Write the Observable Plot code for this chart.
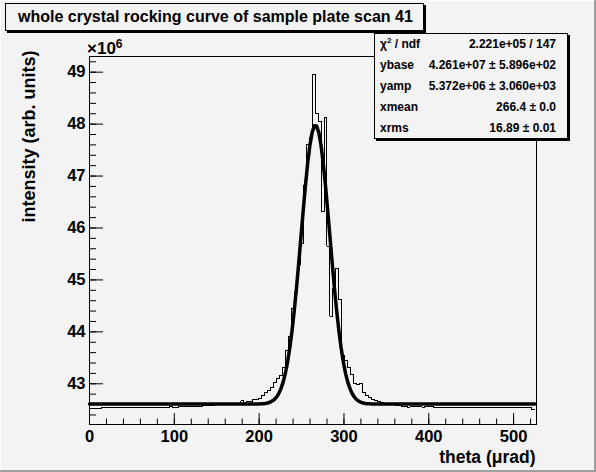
<!DOCTYPE html>
<html>
<head>
<meta charset="utf-8">
<script src="https://cdn.jsdelivr.net/npm/d3@7"></script>
<script src="https://cdn.jsdelivr.net/npm/@observablehq/plot@0.6"></script>
<style>
  body { margin: 0; background: #f3f3f3; }
  #wrap {
    position: relative; width: 596px; height: 472px; background: #f3f3f3; overflow: hidden;
    box-shadow: inset -2px -2px 0 #a0a0a0, inset 1px 1px 0 #ffffff;
    font-family: "Liberation Sans", Arial, Helvetica, sans-serif; color: #000;
  }
  #chart { position: absolute; left: 0; top: 0; }
  .title {
    position: absolute; left: 5px; top: 3px; width: 419px; height: 28px; box-sizing: border-box;
    border: 1px solid #000; box-shadow: 2px 2px 0 #000; background: #f3f3f3;
    font-weight: bold; font-size: 16px; line-height: 26px; padding-left: 12px; white-space: nowrap;
  }
  .stats {
    position: absolute; left: 374px; top: 33px; width: 194px; height: 106px; box-sizing: border-box;
    border: 1px solid #000; box-shadow: 2px 2px 0 #000; background: #f3f3f3;
    font-weight: bold; font-size: 12px;
  }
  .row {
    position: absolute; left: 5px; right: 11px; height: 21px; display: flex;
    justify-content: space-between; align-items: center; white-space: nowrap;
  }
  .row sup { font-size: 8px; vertical-align: 5px; line-height: 0; }
  .exp { position: absolute; left: 87px; top: 40px; font-weight: bold; font-size: 17px; line-height: 17px; white-space: nowrap; }
  .exp sup { font-size: 12px; vertical-align: 6px; line-height: 0; }
</style>
</head>
<body>
<div id="wrap">
  <div id="chart"></div>
  <div class="exp">×10<sup>6</sup></div>
  <div class="title" id="title"></div>
  <div class="stats" id="stats"></div>
</div>
<script>
// ---- data ----
const titleText = "whole crystal rocking curve of sample plate scan 41";
const xLabel = "theta (μrad)";
const yLabel = "intensity (arb. units)";

// histogram: 150 bins of 3.5 µrad starting at 0 ; contents in units of 10^6
const binStart = 0;
const binWidth = 3.5;
const binContents = [
  42.516,42.516,42.516,42.516,42.536,42.536,42.536,42.536,42.536,42.536,
  42.536,42.536,42.536,42.536,42.536,42.536,42.536,42.536,42.536,42.536,
  42.536,42.536,42.536,42.536,42.536,42.536,42.536,42.556,42.536,42.536,
  42.558,42.558,42.558,42.558,42.558,42.558,42.558,42.558,42.585,42.585,
  42.585,42.585,42.595,42.595,42.595,42.595,42.61,42.61,42.61,42.61,
  42.62,42.67,42.645,42.66,42.665,42.69,42.70,42.72,42.77,42.84,
  42.87,42.93,43.03,43.10,43.15,43.31,43.64,43.92,44.45,44.75,
  45.29,45.70,46.82,47.60,47.75,48.95,48.21,48.06,46.31,48.12,
  45.65,44.30,44.84,45.22,44.62,43.55,43.45,43.31,43.18,43.01,
  42.98,43.01,42.84,42.77,42.74,42.70,42.68,42.66,42.645,42.63,
  42.62,42.61,42.60,42.59,42.58,42.56,42.56,42.55,42.56,42.56,
  42.56,42.56,42.55,42.56,42.56,42.56,42.536,42.536,42.536,42.536,
  42.536,42.536,42.536,42.536,42.536,42.536,42.536,42.536,42.536,42.536,
  42.536,42.536,42.536,42.536,42.536,42.536,42.536,42.536,42.536,42.536,
  42.536,42.536,42.536,42.536,42.536,42.536,42.536,42.536,42.536,42.50
];

// fit parameters shown in the stats box (y in units of 10^6)
const fitYbase = 42.61;
const fitYamp = 5.372;
const fitXmean = 266.4;
const fitXrms = 16.89;
const fitRange = [0, 525];

const statsLabels = ["χ<sup>2</sup> / ndf", "ybase", "yamp", "xmean", "xrms"];
const statsValues = ["2.221e+05 / 147", "4.261e+07 ± 5.896e+02", "5.372e+06 ± 3.060e+03", "266.4 ± 0.0", "16.89 ± 0.01"];

const xMajorTicks = [0, 100, 200, 300, 400, 500];
const yMajorTicks = [43, 44, 45, 46, 47, 48, 49];
const xDomain = [0, 527];
const yDomain = [42.216, 49.302];

// ---- build ----
const histPoints = binContents.map((v, i) => ({x: binStart + i * binWidth, y: v}));
histPoints.push({x: binStart + binContents.length * binWidth, y: binContents[binContents.length - 1]});

const fitPoints = d3.range(0, 201).map(k => {
  const x = fitRange[0] + (fitRange[1] - fitRange[0]) * k / 200;
  return {x, y: fitYbase + fitYamp * Math.exp(-0.5 * ((x - fitXmean) / fitXrms) ** 2)};
});

const xMinor = d3.range(0, 527, 20);
const yMinor = d3.range(42.4, 49.3, 0.2).map(v => +v.toFixed(1));

const blank = () => "";

const chart = Plot.plot({
  width: 596,
  height: 472,
  marginLeft: 89,
  marginRight: 60,
  marginTop: 56,
  marginBottom: 48,
  x: {domain: xDomain},
  y: {domain: yDomain},
  style: {
    background: "transparent",
    fontFamily: '"Liberation Sans", Arial, Helvetica, sans-serif',
    fontSize: "16.5px",
    fontWeight: "bold",
    color: "#000",
    overflow: "visible"
  },
  marks: [
    Plot.line(histPoints, {x: "x", y: "y", curve: "step-after", stroke: "#000", strokeWidth: 1, shapeRendering: "crispEdges"}),
    Plot.line(fitPoints, {x: "x", y: "y", stroke: "#000", strokeWidth: 3.5, strokeLinejoin: "round"}),
    Plot.frame({stroke: "#000", strokeWidth: 1, shapeRendering: "crispEdges"}),
    Plot.axisX({ticks: xMinor, tickSize: -5.5, tickFormat: blank, label: null}),
    Plot.axisX({ticks: xMajorTicks, tickSize: -11, tickFormat: blank, label: null}),
    Plot.axisX({ticks: xMajorTicks, tickSize: 0, tickPadding: 6, tickFormat: d => String(d), label: null}),
    Plot.axisY({ticks: yMinor, tickSize: -7, tickFormat: blank, label: null}),
    Plot.axisY({ticks: yMajorTicks, tickSize: -14, tickFormat: blank, label: null}),
    Plot.axisY({ticks: yMajorTicks, tickSize: 0, tickPadding: 4, tickFormat: d => String(d), label: null}),
    Plot.text([xLabel], {frameAnchor: "bottom-right", dx: -1, dy: 33, textAnchor: "end", lineAnchor: "middle", fontSize: 17.5}),
    Plot.text([yLabel], {frameAnchor: "top-left", rotate: -90, dx: -60, dy: -6, textAnchor: "end", lineAnchor: "middle", fontSize: 18})
  ]
});
document.getElementById("chart").appendChild(chart);

document.getElementById("title").textContent = titleText;
const stats = document.getElementById("stats");
statsLabels.forEach((lab, i) => {
  const row = document.createElement("div");
  row.className = "row";
  row.style.top = (-0.5 + 21 * i) + "px";
  const a = document.createElement("span");
  a.innerHTML = lab;
  const b = document.createElement("span");
  b.textContent = statsValues[i];
  row.appendChild(a);
  row.appendChild(b);
  stats.appendChild(row);
});
</script>
</body>
</html>
